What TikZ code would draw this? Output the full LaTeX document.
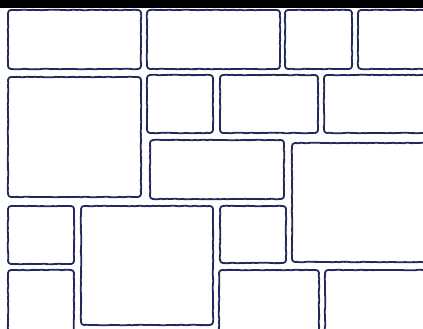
\documentclass[tikz,border=0pt]{standalone}
\usetikzlibrary{decorations.pathmorphing}
\definecolor{navy}{HTML}{222A5C}
\tikzset{
  panel/.style={rectangle, inner sep=0pt, outer sep=0pt, draw=none},
  rough/.style={draw=navy, line width=1.8pt, line join=round, line cap=round,
    decoration={random steps, segment length=3pt, amplitude=0.3pt}},
}
\pgfmathsetseed{7}
\newcommand{\outline}[1]{\draw[rough]
  ([xshift=3pt]#1.north west) decorate {-- ([xshift=-3pt]#1.north east)}
  arc[start angle=90, end angle=0, radius=3pt]
  decorate {-- ([yshift=3pt]#1.south east)}
  arc[start angle=0, end angle=-90, radius=3pt]
  decorate {-- ([xshift=3pt]#1.south west)}
  arc[start angle=-90, end angle=-180, radius=3pt]
  decorate {-- ([yshift=-3pt]#1.north west)}
  arc[start angle=180, end angle=90, radius=3pt] -- cycle;}
\begin{document}
\begin{tikzpicture}[x=1pt,y=1pt]
\useasboundingbox (0,0) rectangle (423,-329);
\clip (0,0) rectangle (423,-329);
\fill[white] (0,0) rectangle (423,-329);
\fill[black] (0,0) rectangle (423,-8);
\node[panel, minimum width=133pt, minimum height=59pt] (a) at (74.5,-39.5) {};
\node[panel, minimum width=133pt, minimum height=59pt] (b) at (213.5,-39.5) {};
\node[panel, minimum width=67pt, minimum height=59pt] (c) at (318.5,-39.5) {};
\node[panel, minimum width=74pt, minimum height=59pt] (d) at (395,-39.5) {};
\node[panel, minimum width=133pt, minimum height=120pt] (e) at (74.5,-137) {};
\node[panel, minimum width=66pt, minimum height=58pt] (f) at (180,-104) {};
\node[panel, minimum width=98pt, minimum height=58pt] (g) at (269,-104) {};
\node[panel, minimum width=108pt, minimum height=58pt] (h) at (378,-104) {};
\node[panel, minimum width=134pt, minimum height=59pt] (i) at (217,-169.5) {};
\node[panel, minimum width=140pt, minimum height=119pt] (j) at (362,-202.5) {};
\node[panel, minimum width=66pt, minimum height=58pt] (k) at (41,-235) {};
\node[panel, minimum width=132pt, minimum height=119pt] (l) at (147,-265.5) {};
\node[panel, minimum width=66pt, minimum height=57pt] (m) at (253,-234.5) {};
\node[panel, minimum width=66pt, minimum height=70pt] (n) at (41,-305) {};
\node[panel, minimum width=100pt, minimum height=70pt] (o) at (269,-305) {};
\node[panel, minimum width=107pt, minimum height=70pt] (p) at (378.5,-305) {};
\foreach \n in {a,b,c,d,e,f,g,h,i,j,k,l,m,n,o,p} {\outline{\n}}
\end{tikzpicture}
\end{document}
